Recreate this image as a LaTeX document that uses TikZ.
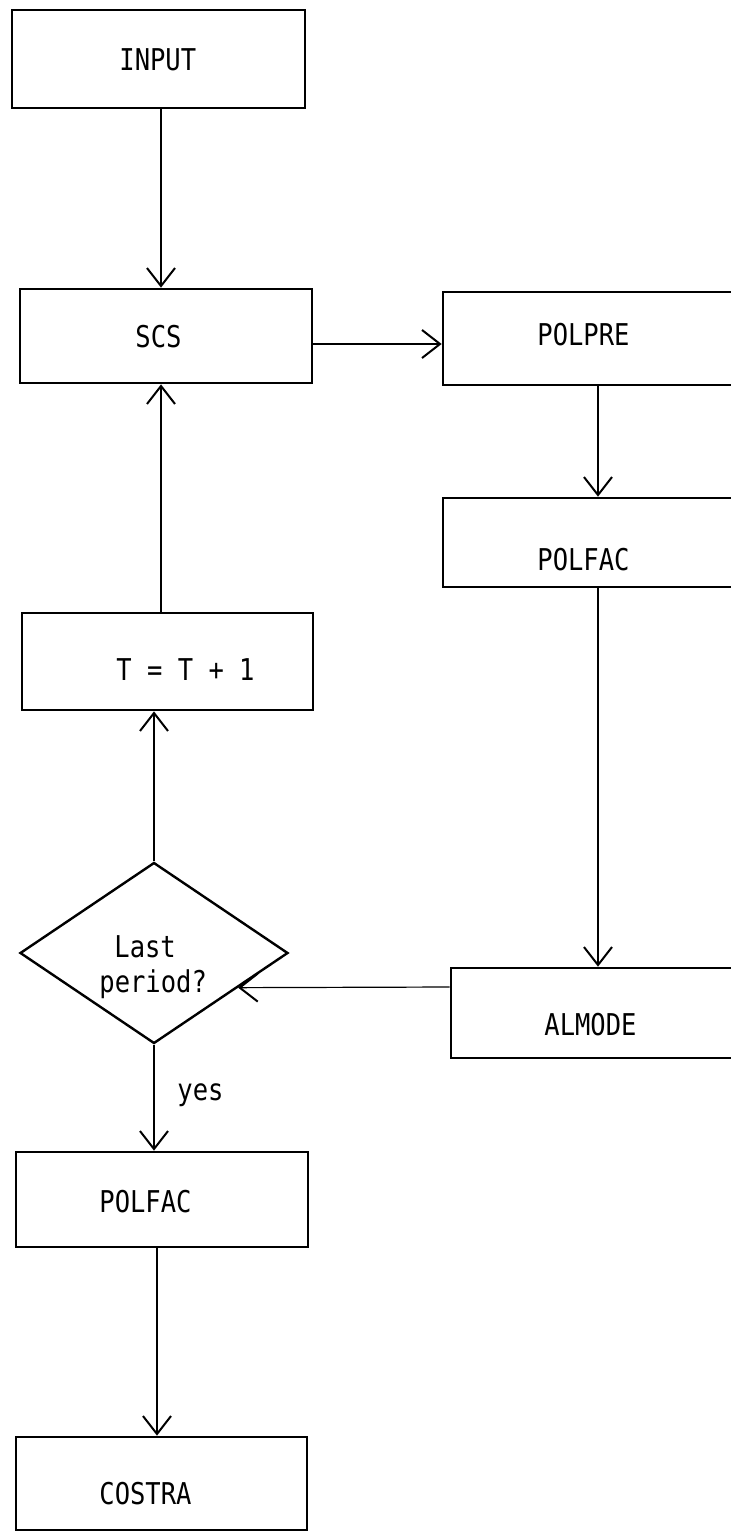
\documentclass[tikz,border=0pt]{standalone}
\usepackage{fontspec}
\newfontfamily\tw[FakeStretch=0.85]{DejaVu Sans Mono}
\usetikzlibrary{arrows.meta,shapes.geometric,calc}
\begin{document}
\begin{tikzpicture}[x=0.5pt,y=-0.5pt,
  box/.style={draw, line width=1.35pt, rectangle, inner sep=0pt},
  lbl/.style={font=\tw\fontsize{15}{18}\selectfont, inner sep=0pt, anchor=base west},
  arr/.style={line width=1pt, -{Straight Barb[length=9pt,width=14pt,line width=1pt]}},
  arrthin/.style={line width=0.6pt, -{Straight Barb[length=9pt,width=14pt,line width=1pt]}}
]
\useasboundingbox (0,0) rectangle (731,1532);
\clip (0,0) rectangle (731,1532);
\fill[white] (0,0) rectangle (731,1532);

\coordinate (lc) at (161,0);
\coordinate (lc2) at (157,0);
\coordinate (rc) at (598,0);

% boxes
\node[box, minimum width=146.5pt, minimum height=49pt] (input) at (158.5,59) {};
\node[box, minimum width=146pt, minimum height=47pt] (scs) at (166,336) {};
\node[box, minimum width=158.5pt, minimum height=46.5pt] (polpre) at (601.5,338.5) {};
\node[box, minimum width=158.5pt, minimum height=44.5pt] (polfacr) at (601.5,542.5) {};
\node[box, minimum width=145.5pt, minimum height=48.5pt] (tbox) at (167.5,661.5) {};
\node[draw, line width=1.2pt, shape=diamond, inner sep=0pt, minimum width=134pt, minimum height=90.5pt] (dia) at (154,953) {};
\node[box, minimum width=154.5pt, minimum height=45pt] (almode) at (605.5,1013) {};
\node[box, minimum width=146pt, minimum height=47.5pt] (polfacl) at (162,1199.5) {};
\node[box, minimum width=145.5pt, minimum height=46.5pt] (costra) at (161.5,1483.5) {};

% texts
\node[lbl] (tinput) at (119,70) {INPUT};
\node[lbl] (tscs) at (135,347) {SCS};
\node[lbl] (tpolpre) at (537,345) {POLPRE};
\node[lbl] (tpolfacr) at (537,570) {POLFAC};
\node[lbl] (tt) at (116,680) {T = T + 1};
\node[lbl] (tlast) at (114,957) {Last};
\node[lbl] (tperiod) at (99,992) {period?};
\node[lbl] (talmode) at (544,1035) {ALMODE};
\node[lbl] (tyes) at (177,1100) {yes};
\node[lbl] (tpolfacl) at (99,1212) {POLFAC};
\node[lbl] (tcostra) at (99,1504) {COSTRA};

% connectors
\draw[arr] (input.south -| lc) -- (scs.north -| lc);
\draw[arr] (scs.east |- 0,344) -- (polpre.west |- 0,344);
\draw[arr] (polpre.south -| rc) -- (polfacr.north -| rc);
\draw[arr] (polfacr.south -| rc) -- (almode.north -| rc);
\draw[arrthin] (almode.west |- 0,987) -- ($(dia.east)!0.378!(dia.south)$);
\draw[arr] (dia.north) -- (dia.north |- tbox.south);
\draw[arr] (tbox.north -| lc) -- (scs.south -| lc);
\draw[arr] (dia.south) -- (dia.south |- polfacl.north);
\draw[arr] (polfacl.south -| lc2) -- (costra.north -| lc2);
\end{tikzpicture}
\end{document}
